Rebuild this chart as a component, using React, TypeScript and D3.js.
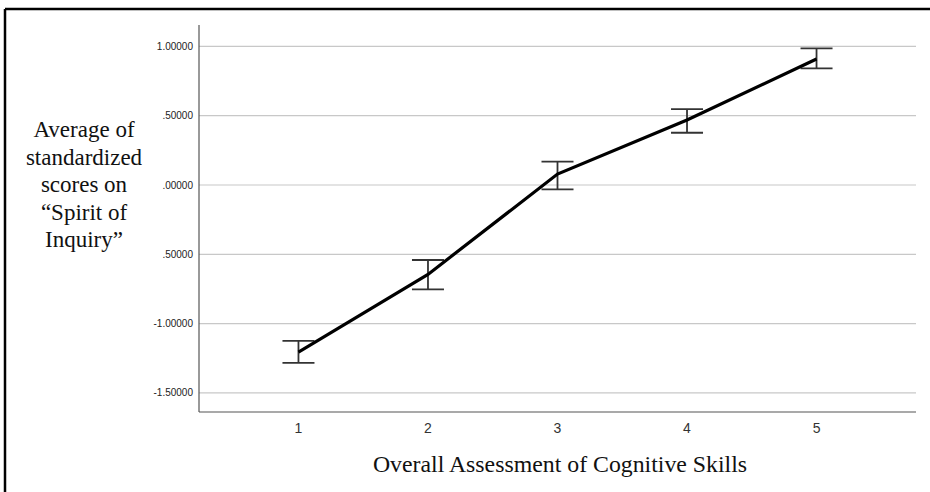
import React from "react";
import * as d3 from "d3";

const categories = [1, 2, 3, 4, 5];
const means = [-1.205, -0.645, 0.079, 0.469, 0.909];
const upper = [-1.125, -0.541, 0.168, 0.548, 0.986];
const lower = [-1.284, -0.753, -0.031, 0.377, 0.842];
const yTicks = [1.0, 0.5, 0.0, -0.5, -1.0, -1.5];
const yTickLabels = ["1.00000", ".50000", ".00000", ".50000", "-1.00000", "-1.50000"];
const yLabelLines = ["Average of", "standardized", "scores on", "\u201cSpirit of", "Inquiry\u201d"];
const xTitle = "Overall Assessment of Cognitive Skills";

export default function App() {
  const W = 930, H = 492;
  const left = 199, right = 916, top = 25, bottom = 412;
  const y = d3.scaleLinear().domain([0, 1]).range([185, 46.4]);
  const x = d3.scalePoint<number>().domain(categories).range([left, right]).padding(0.768);
  const line = d3.line<number>().x((_, i) => x(categories[i])!).y((d) => y(d));
  const capW = 16;
  return (
    <svg width={W} height={H} style={{ position: "absolute", left: 0, top: 0, background: "#fff" }}>
      <line x1={5} y1={9} x2={W} y2={9} stroke="#000" strokeWidth={2.5} />
      <line x1={5} y1={9} x2={5} y2={H} stroke="#000" strokeWidth={2.5} />
      {yTicks.map((t) => (
        <line key={t} x1={left} x2={right} y1={y(t)} y2={y(t)} stroke="#c8c8c8" strokeWidth={1.2} />
      ))}
      <line x1={left} x2={left} y1={top} y2={bottom} stroke="#555" strokeWidth={1.2} />
      <line x1={left} x2={right} y1={bottom} y2={bottom} stroke="#555" strokeWidth={1.2} />
      {yTicks.map((t, i) => (
        <text key={t} x={193} y={y(t)} dy="0.35em" textAnchor="end" fontFamily="Liberation Sans, Arial, sans-serif" fontSize={10} fill="#222">
          {yTickLabels[i]}
        </text>
      ))}
      {categories.map((c) => (
        <text key={c} x={x(c)} y={433} textAnchor="middle" fontFamily="Liberation Sans, Arial, sans-serif" fontSize={14} fill="#333">
          {c}
        </text>
      ))}
      {categories.map((c, i) => (
        <g key={c} stroke="#333" strokeWidth={1.8}>
          <line x1={x(c)} x2={x(c)} y1={y(upper[i])} y2={y(lower[i])} />
          <line x1={x(c)! - capW} x2={x(c)! + capW} y1={y(upper[i])} y2={y(upper[i])} />
          <line x1={x(c)! - capW} x2={x(c)! + capW} y1={y(lower[i])} y2={y(lower[i])} />
        </g>
      ))}
      <path d={line(means) || ""} fill="none" stroke="#000" strokeWidth={3.2} />
      <text textAnchor="middle" fontFamily="Liberation Serif, Times New Roman, serif" fontSize={23} fill="#111">
        {yLabelLines.map((l, i) => (
          <tspan key={i} x={84} y={137 + i * 27.6}>{l}</tspan>
        ))}
      </text>
      <text x={560} y={472} textAnchor="middle" fontFamily="Liberation Serif, Times New Roman, serif" fontSize={23.8} fill="#111">
        {xTitle}
      </text>
    </svg>
  );
}
